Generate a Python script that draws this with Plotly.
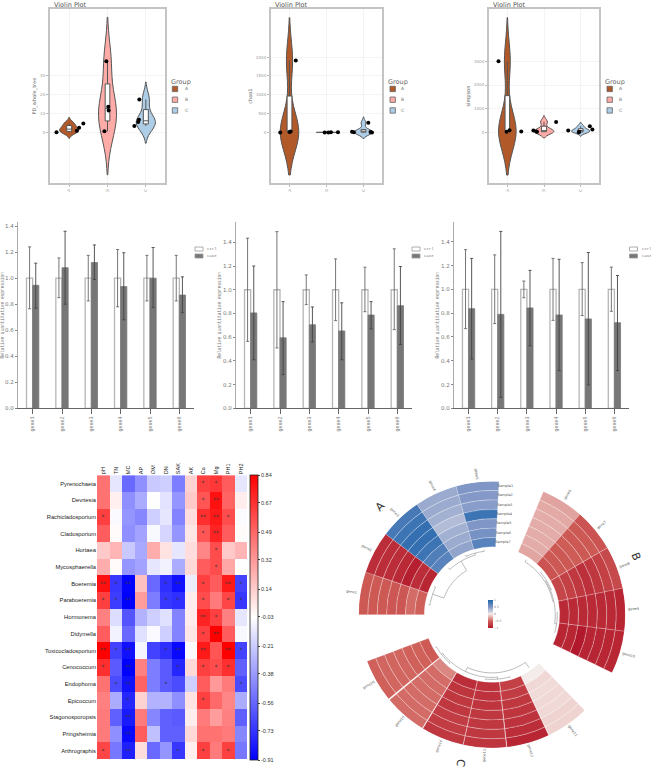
import math
import plotly.graph_objects as go

W, H = 651, 775

# ---------- violin data ----------
violin_groups = ["A", "B", "C"]
violin_colors = ["#B15928", "#FFABA7", "#AECDE6"]
pd_values = [[0.2, 1.0, 2.6, 4.8], [0.7, 11.6, 13.7, 37.7], [3.5, 5.6, 6.8, 17.5]]
pd_jitter = [[-0.33, 0.20, 0.26, 0.37], [-0.08, 0.03, 0.02, -0.03], [-0.30, -0.20, -0.18, -0.17]]
pd_bandwidth = [1.45, 10.5, 4.1]
pd_span = [[-3, 8], [-22.3, 60.9], [-5.6, 26.7]]
chao_values = [[0, 15, 25, 1910], [0, 2, 3, 5], [0, 9, 11, 18, 255]]
chao_jitter = [[-0.25, 0.0, 0.03, 0.17], [-0.05, 0.05, 0.12, 0.31], [0.23, -0.26, 0.19, -0.31, 0.13]]
chao_bandwidth = [520, 2, 72]
chao_span = [[-1128, 3048], [-6, 11], [-158, 414]]
simpson_values = [[14, 28, 85, 3014], [15, 30, 70, 436], [0, 14, 70, 113, 253]]
simpson_jitter = [[-0.02, 0.38, 0.06, -0.24], [-0.19, -0.21, -0.29, 0.33], [-0.05, -0.04, -0.34, 0.32, 0.25]]
simpson_bandwidth = [830, 120, 76]
simpson_span = [[-1817, 4859], [-240, 704], [-170, 422]]

# ---------- qPCR bars ----------
genes = ["gene1", "gene2", "gene3", "gene4", "gene5", "gene6"]
bar_names = ["ctrl", "case"]
p1_ctrl_up = [1.24, 1.155, 1.175, 1.22, 1.175, 1.175]
p1_ctrl_lo = [0.765, 0.85, 0.825, 0.78, 0.825, 0.825]
p1_case = [0.945, 1.08, 1.12, 0.935, 1.0, 0.87]
p1_case_up = [1.115, 1.36, 1.255, 1.195, 1.235, 1.01]
p1_case_lo = [0.77, 0.80, 0.99, 0.68, 0.775, 0.735]
p2_ctrl_up = [1.435, 1.49, 1.125, 1.26, 1.19, 1.345]
p2_ctrl_lo = [0.565, 0.51, 0.875, 0.74, 0.815, 0.664]
p2_case = [0.805, 0.595, 0.705, 0.653, 0.787, 0.866]
p2_case_up = [1.2, 0.90, 0.855, 0.89, 0.90, 1.196]
p2_case_lo = [0.41, 0.285, 0.56, 0.41, 0.67, 0.538]
p3_ctrl_up = [1.334, 1.29, 1.07, 1.26, 1.225, 1.187]
p3_ctrl_lo = [0.67, 0.713, 0.93, 0.74, 0.78, 0.816]
p3_case = [0.838, 0.79, 0.844, 0.785, 0.752, 0.72]
p3_case_up = [1.26, 1.487, 1.16, 1.253, 1.31, 1.117]
p3_case_lo = [0.415, 0.092, 0.526, 0.318, 0.198, 0.318]
ctrl_value = [1.0, 1.0, 1.0, 1.0, 1.0, 1.0]

# ---------- correlation heatmap ----------
heat_cols = ["pH", "TN", "MC", "AP", "OM", "DN", "SAK", "AK", "Ca", "Mg", "PH1", "PH2"]
heat_rows = ["Pyrenochaeta", "Devriesia", "Rachicladosporium", "Cladosporium", "Hortaea",
             "Mycosphaerella", "Boeremia", "Paraboeremia", "Hormonema", "Didymella",
             "Toxicocladosporium", "Cenococcum", "Endophoma", "Epicoccum", "Stagonosporopsis",
             "Pringsheimia", "Arthrographis"]
heat_z = [
    [.45, -.12, -.55, -.42, -.22, -.20, -.48, .12, .62, .65, .52, -.12],
    [.45, .02, -.42, -.32, -.03, -.13, -.40, .15, .55, .78, .50, .03],
    [.62, -.05, -.40, -.45, -.20, -.12, -.46, .08, .68, .75, .58, -.05],
    [.52, -.02, -.42, -.35, -.06, -.18, -.40, .05, .55, .72, .52, -.02],
    [.15, .22, -.22, -.33, .25, .06, -.12, .08, .38, .58, .15, .22],
    [.25, -.02, -.40, -.35, -.12, -.08, -.32, .10, .52, .58, .27, -.03],
    [.78, -.72, -.90, .18, -.55, -.75, -.85, -.10, .62, .52, .75, -.68],
    [.62, -.70, -.91, .30, -.48, -.72, -.75, .03, .58, .42, .60, -.72],
    [.40, -.15, -.62, -.30, -.20, -.14, -.46, .03, .72, .62, .40, -.12],
    [.52, -.08, -.55, -.14, -.05, -.20, -.46, .05, .62, .84, .52, -.06],
    [.84, -.68, -.85, -.07, -.68, -.75, -.88, -.05, .75, .55, .84, -.68],
    [.68, -.60, -.91, .40, -.48, -.60, -.78, .10, .62, .58, .68, -.58],
    [.45, -.65, -.85, .50, -.48, -.60, -.65, -.20, .52, .32, .42, -.65],
    [.40, -.32, -.78, .12, -.30, -.30, -.42, .06, .62, .48, .38, -.32],
    [.42, -.58, -.82, .42, -.45, -.58, -.60, .03, .42, .30, .40, -.58],
    [.42, -.42, -.88, .52, -.25, -.58, -.58, .10, .45, .45, .42, -.45],
    [.60, -.50, -.80, .08, -.55, -.40, -.72, .02, .62, .42, .62, -.50],
]
heat_stars = [
    ["", "", "", "", "", "", "", "", "*", "*", "", ""],
    ["", "", "", "", "", "", "", "", "*", "**", "", ""],
    ["*", "", "", "", "", "", "", "", "**", "**", "*", ""],
    ["", "", "", "", "", "", "", "", "*", "**", "", ""],
    ["", "", "", "", "", "", "", "", "", "*", "", ""],
    ["", "", "", "", "", "", "", "", "", "*", "", ""],
    ["**", "*", "**", "", "", "*", "**", "", "*", "", "**", "*"],
    ["*", "*", "**", "", "", "*", "*", "", "*", "", "*", "*"],
    ["", "", "", "", "", "", "", "", "**", "*", "", ""],
    ["", "", "", "", "", "", "", "", "*", "**", "", ""],
    ["**", "*", "**", "", "", "*", "**", "", "**", "", "**", "*"],
    ["*", "", "**", "", "", "", "*", "", "*", "*", "*", ""],
    ["", "*", "**", "", "", "*", "", "", "", "", "", "*"],
    ["", "", "*", "", "", "", "", "", "*", "", "", ""],
    ["", "", "**", "", "", "", "", "", "", "", "", ""],
    ["", "", "**", "", "", "", "", "", "", "", "", ""],
    ["*", "", "**", "", "", "", "*", "", "*", "", "*", ""],
]
heat_ticks = [.84, .67, .49, .32, .14, -.03, -.21, -.38, -.56, -.73, -.91]

# ---------- circular heatmap ----------
ring_names = ["Sample1", "Sample2", "Sample3", "Sample4", "Sample5", "Sample6", "Sample7"]
col_theta = [279.3, 297.9, 316.5, 335.1, 353.7,
             32, 50.6, 69.3, 87.9, 106.5,
             145.3, 164.2, 183.1, 201.9, 220.9, 240.2]
col_names = ["gene" + str(i) for i in range(1, 17)]
ring_values = [
    [-.55, -.55, -.55, -.57, -.57, -.46, -.50],
    [-.85, -.85, -.85, -.88, -.95, -.85, -.90],
    [.80, .85, .90, .90, .85, .75, .70],
    [.38, .38, .35, .28, .35, .38, .42],
    [.50, .48, .46, .85, .50, .55, .70],
    [-.26, -.24, -.23, -.23, -.23, -.23, -.25],
    [-.58, -.55, -.55, -.53, -.55, -.55, -.58],
    [-.66, -.72, -.78, -.83, -.78, -.72, -.68],
    [-.90, -.88, -.88, -.88, -.88, -.88, -.88],
    [-.90, -.90, -.92, -.92, -1.0, -.90, -.90],
    [-.09, -.09, -.07, -.07, -.06, -.07, 0.0],
    [-.90, -.85, -.82, -.80, -.78, -.75, -.72],
    [-.80, -.78, -.78, -.78, -.80, -.82, -.82],
    [-.78, -.75, -.75, -.78, -.78, -.80, -.85],
    [-.46, -.46, -.46, -.46, -.46, -.46, -.36],
    [-.50, -.48, -.48, -.48, -.50, -.50, -.54],
]
# (theta left, r left, theta right, r right, r join)
tree_merges = [
    (279, 64.5, 296, 64.5, 63), (289, 63, 330, 62, 51), (317, 64, 344.5, 64, 62), (336, 65.5, 353, 65.5, 64),
    (32, 65, 78, 63.5, 62.5), (58, 64.5, 98, 65.5, 63.5), (49, 66, 67, 65.5, 64.5), (88, 66, 106, 66, 65.5),
    (145, 65, 205, 63, 58.5), (175, 65, 232, 65, 63), (164, 66, 186, 65.5, 65), (221, 65.5, 240, 65.5, 64.5),
]
sector_letters = ["A", "B", "C"]

GREY = "#777777"
FRAME = "#c4c4c4"
NARROW = "Liberation Sans"


def dom_x(a, b):
    return [a / W, b / W]


def dom_y(top, bottom):
    return [1 - bottom / H, 1 - top / H]


annotations, shapes = [], []


def note(x, y, text, size=5, color=GREY, anchor="left", angle=0, family="DejaVu Sans"):
    annotations.append(dict(x=x / W, y=1 - y / H, xref="paper", yref="paper", text=text, showarrow=False,
                            xanchor=anchor, yanchor="middle", textangle=angle,
                            font=dict(size=size, color=color, family=family)))


def key(x0, y0, x1, y1, fill, line):
    shapes.append(dict(type="rect", xref="paper", yref="paper", x0=x0 / W, x1=x1 / W,
                       y0=1 - y1 / H, y1=1 - y0 / H, fillcolor=fill, line=dict(color=line, width=0.8)))


fig = go.Figure()

# ---- violin panels ----
violin_panels = [
    ("", 50, 165, "PD_whole_tree", [-26.8, 65.3], [0, 10, 20, 30], pd_values, pd_jitter, pd_bandwidth, pd_span,
     [0.5, 0.47, 0.5], 168.7, 172.3, 182.7, 52),
    ("2", 271, 382, "chao1", [-1349, 3278], [0, 500, 1000, 1500, 2000], chao_values, chao_jitter, chao_bandwidth,
     chao_span, [0.5, 0.55, 0.5], 386, 390, 399, 273),
    ("3", 489, 599, "simpson", [-2167, 5226], [0, 1000, 2000, 3000], simpson_values, simpson_jitter,
     simpson_bandwidth, simpson_span, [0.48, 0.54, 0.5], 603, 607, 617, 490.7),
]
layout_axes = {}
for sfx, left, right, ytitle, yr, yt, vals, jit, bw, span, widths, lx, kx, tx, title_x in violin_panels:
    for i, grp in enumerate(violin_groups):
        fig.add_trace(go.Violin(
            x0=i + 1, y=vals[i], name=grp, xaxis="x" + sfx, yaxis="y" + sfx, width=widths[i], scalemode="width",
            spanmode="manual", span=span[i], bandwidth=bw[i], points=False, fillcolor=violin_colors[i],
            line=dict(color="#555555", width=1), showlegend=False, hoverinfo="skip",
            box=dict(visible=True, width=0.26, fillcolor="white", line=dict(color="#555555", width=1)),
            meanline=dict(visible=False)))
        fig.add_trace(go.Scatter(
            x=[i + 1 + j for j in jit[i]], y=vals[i], mode="markers", xaxis="x" + sfx, yaxis="y" + sfx,
            marker=dict(color="black", size=4), showlegend=False, hoverinfo="skip"))
        key(kx, 89.3 + i * 10.8 - 2.7, kx + 5.4, 89.3 + i * 10.8 + 2.7, violin_colors[i], "#666666")
        note(tx, 89.3 + i * 10.8, grp, size=4.5)
    note(lx, 82, "Group", size=6.5, color="#666666")
    note(title_x, 5, "Violin Plot", size=6.5, color="#555555")
    layout_axes["xaxis" + sfx] = dict(
        domain=dom_x(left, right), anchor="y" + sfx, range=[0.5, 3.5], tickvals=[1, 2, 3], ticktext=violin_groups,
        tickangle=-90, tickfont=dict(size=4, color="#999999"), ticks="outside", ticklen=2, tickcolor="#bbbbbb",
        showline=True, mirror=True, linecolor=FRAME, linewidth=2, showgrid=True, gridcolor="#f4f4f4",
        gridwidth=0.6, zeroline=False)
    layout_axes["yaxis" + sfx] = dict(
        domain=dom_y(9, 184), anchor="x" + sfx, range=yr, tickvals=yt, tickfont=dict(size=4, color="#999999"),
        ticks="outside", ticklen=2, tickcolor="#bbbbbb", showline=True, mirror=True, linecolor=FRAME, linewidth=2,
        showgrid=True, gridcolor="#f4f4f4", gridwidth=0.6, zeroline=False,
        title=dict(text=ytitle, font=dict(size=5, color="#666666"), standoff=3))

# ---- bar panels ----
bar_panels = [
    ("4", 18, 194, [0, 1.43], p1_ctrl_up, p1_ctrl_lo, p1_case, p1_case_up, p1_case_lo, 195),
    ("5", 236, 412, [0, 1.57], p2_ctrl_up, p2_ctrl_lo, p2_case, p2_case_up, p2_case_lo, 412),
    ("6", 454, 629, [0, 1.565], p3_ctrl_up, p3_ctrl_lo, p3_case, p3_case_up, p3_case_lo, 629.5),
]
for sfx, left, right, yr, c_up, c_lo, k_val, k_up, k_lo, kx in bar_panels:
    fig.add_trace(go.Bar(
        x=genes, y=ctrl_value, name=bar_names[0], xaxis="x" + sfx, yaxis="y" + sfx, showlegend=False,
        marker=dict(color="white", line=dict(color="#b5b5b5", width=1.3)),
        error_y=dict(type="data", symmetric=False, array=[u - v for u, v in zip(c_up, ctrl_value)],
                     arrayminus=[v - l for l, v in zip(c_lo, ctrl_value)], color="#666666", thickness=0.9, width=1.5)))
    fig.add_trace(go.Bar(
        x=genes, y=k_val, name=bar_names[1], xaxis="x" + sfx, yaxis="y" + sfx, showlegend=False,
        marker=dict(color="#777777", line=dict(color="#777777", width=0.8)),
        error_y=dict(type="data", symmetric=False, array=[u - v for u, v in zip(k_up, k_val)],
                     arrayminus=[v - l for l, v in zip(k_lo, k_val)], color="#444444", thickness=0.9, width=1.5)))
    for i, nm in enumerate(bar_names):
        key(kx, 248 + i * 7, kx + 8, 252 + i * 7, "white" if i == 0 else "#777777", "#999999")
        note(kx + 10, 250 + i * 7, nm, size=4, family="Liberation Mono")
    layout_axes["xaxis" + sfx] = dict(
        domain=dom_x(left, right), anchor="y" + sfx, type="category", categoryorder="array", categoryarray=genes,
        range=[-0.5, 5.5], tickangle=-90,
        tickfont=dict(size=5, color=GREY, family="Liberation Mono"), ticks="outside", ticklen=5, tickcolor="#666666",
        showline=True, linecolor="#666666", linewidth=1, showgrid=False, zeroline=False)
    layout_axes["yaxis" + sfx] = dict(
        domain=dom_y(223, 410), anchor="x" + sfx, range=yr, tick0=0, dtick=0.2, tickformat=".1f",
        tickfont=dict(size=5.5, color=GREY), ticks="outside", ticklen=2, tickcolor="#888888", showline=True,
        linecolor="#aaaaaa", linewidth=1.3, showgrid=False, zeroline=False,
        title=dict(text="Relative quantitative expression", standoff=1,
                   font=dict(size=4.5, color=GREY, family="Liberation Mono")))

# ---- heatmap ----
fig.add_trace(go.Heatmap(
    x=heat_cols, y=heat_rows, z=heat_z, text=heat_stars, texttemplate="%{text}", textfont=dict(size=6, color="#333333"),
    xaxis="x7", yaxis="y7", zmin=-0.91, zmax=0.84, hoverinfo="skip",
    colorscale=[[0, "#0000ff"], [0.5, "#ffffff"], [1, "#ff0000"]],
    colorbar=dict(x=250 / W, xref="paper", xanchor="left", xpad=0, y=1 - 477 / H, yanchor="top", ypad=0,
                  lenmode="pixels", len=285, thicknessmode="pixels", thickness=8,
                  tickvals=heat_ticks, ticktext=["%.2f" % t for t in heat_ticks], ticks="outside", ticklen=2,
                  tickfont=dict(size=5.5, color="#333333", family=NARROW),
                  outlinewidth=0.8, outlinecolor="#222222")))
layout_axes["xaxis7"] = dict(domain=dom_x(97, 247), anchor="y7", side="top", tickangle=-90, showgrid=False,
                             zeroline=False, ticks="", tickfont=dict(size=5.5, color="#222222", family=NARROW))
layout_axes["yaxis7"] = dict(domain=dom_y(477, 762), anchor="x7", autorange="reversed", showgrid=False,
                             zeroline=False, ticks="", tickfont=dict(size=5.8, color="#222222", family=NARROW))

# ---- circular heatmap ----
R_OUT, R_IN = 134.0, 68.0
RING = (R_OUT - R_IN) / len(ring_names)
bar_r, bar_base, bar_theta, bar_color = [], [], [], []
for th, column in zip(col_theta, ring_values):
    for ring, value in enumerate(column):
        bar_theta.append(th)
        bar_r.append(RING)
        bar_base.append(R_OUT - (ring + 1) * RING)
        bar_color.append(value)
fig.add_trace(go.Barpolar(
    r=bar_r, base=bar_base, theta=bar_theta, width=18.7, subplot="polar", showlegend=False, hoverinfo="skip",
    marker=dict(color=bar_color, cmin=-1, cmax=1,
                colorscale=[[0, "#b2182b"], [0.25, "#d0605a"], [0.5, "#f4ecea"], [0.75, "#7f96c6"], [1, "#2166ac"]],
                line=dict(color="rgba(255,255,255,0.55)", width=0.5),
                colorbar=dict(x=488 / W, xref="paper", xanchor="left", xpad=0, y=1 - 602 / H, yanchor="top", ypad=0,
                              lenmode="pixels", len=28, thicknessmode="pixels", thickness=5, outlinewidth=0,
                              tickvals=[-1, -0.5, 0, 0.5, 1], ticks="", tickfont=dict(size=3, color=GREY)))))
tree_r, tree_theta = [], []
for t0, r0, t1, r1, rj in tree_merges:
    steps = max(2, int((t1 - t0) / 2))
    arc = [t0 + (t1 - t0) * s / steps for s in range(steps + 1)]
    tree_theta += [t0] + arc + [t1, None]
    tree_r += [r0] + [rj] * len(arc) + [r1, None]
fig.add_trace(go.Scatterpolar(r=tree_r, theta=tree_theta, mode="lines", subplot="polar", showlegend=False,
                              hoverinfo="skip", line=dict(color="#a8a8a8", width=0.8), connectgaps=False))
fig.add_trace(go.Scatterpolar(
    r=[R_OUT - (i + 0.5) * RING for i in range(len(ring_names))], theta=[2.6] * len(ring_names), text=ring_names,
    mode="text", textposition="middle right", subplot="polar", showlegend=False, hoverinfo="skip",
    textfont=dict(size=3.5, color="#555555")))
CX, CY = 492, 617
for name, th in zip(col_names, col_theta):
    rad = math.radians(th)
    ang = th - 90 if th < 180 else th + 90
    note(CX + 142 * math.sin(rad), CY - 142 * math.cos(rad), name, size=3.5, color="#555555", anchor="center",
         angle=ang)
for letter, lx, ly, ang in zip(sector_letters, [380, 635.7, 461], [508.3, 558.7, 766], [-44, 69, 100]):
    note(lx, ly, letter, size=11, color="#333333", anchor="center", angle=ang)

fig.update_layout(
    width=W, height=H, autosize=False, margin=dict(l=0, r=0, t=0, b=0), paper_bgcolor="white", plot_bgcolor="white",
    violinmode="overlay", barmode="group", bargap=0.58, bargroupgap=0, showlegend=False,
    font=dict(family="DejaVu Sans", color=GREY), annotations=annotations, shapes=shapes,
    polar=dict(domain=dict(x=dom_x(CX - R_OUT, CX + R_OUT), y=dom_y(CY - R_OUT, CY + R_OUT)), bgcolor="rgba(0,0,0,0)",
               angularaxis=dict(direction="clockwise", rotation=90, visible=False),
               radialaxis=dict(range=[0, R_OUT], visible=False), barmode="overlay"),
    **layout_axes)

fig.write_html("out.html", config={"displayModeBar": False},
               post_script="document.body.style.margin='0';document.documentElement.style.overflow='hidden';")
